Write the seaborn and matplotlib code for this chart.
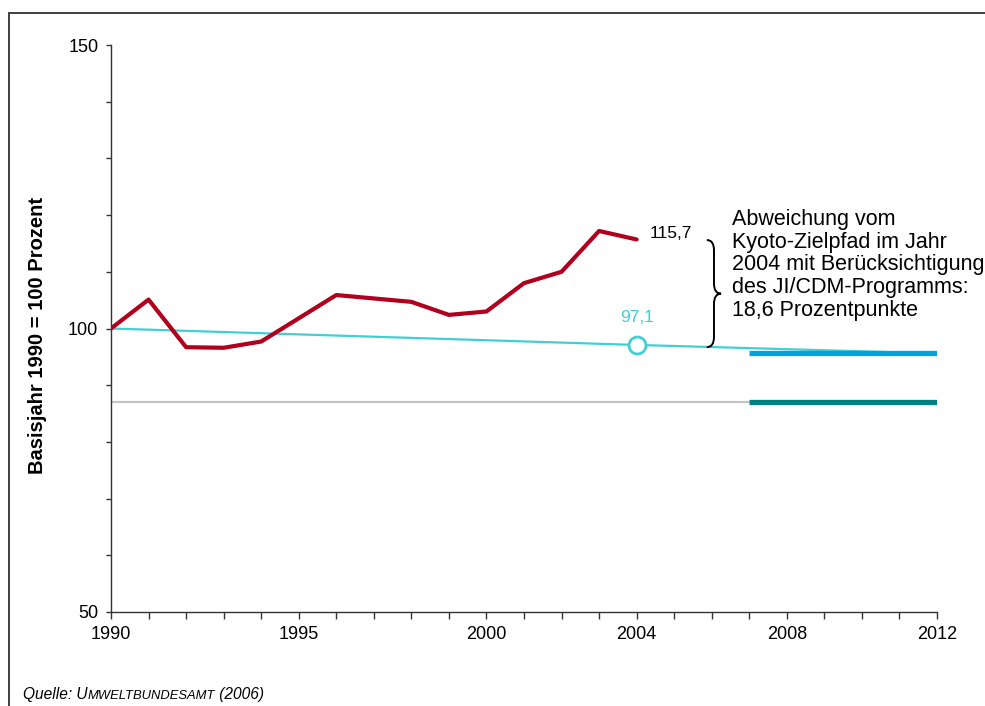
import numpy as np
import pandas as pd
import seaborn as sns
import matplotlib.pyplot as plt
from matplotlib.path import Path
from matplotlib.patches import PathPatch, Rectangle

sns.set_theme(style="white")
plt.rcParams['font.family'] = ['Liberation Sans', 'DejaVu Sans']
plt.rcParams['text.color'] = 'black'
plt.rcParams['xtick.color'] = 'black'
plt.rcParams['ytick.color'] = 'black'

# Emissionen, Basisjahr 1990 = 100
years = list(range(1990, 2005))
emissions = [100, 105.1, 96.7, 96.6, 97.7, 101.8, 105.9, 105.3, 104.7, 102.4,
             103.0, 108.0, 110.0, 117.2, 115.7]

# Kyoto-Zielpfad mit JI/CDM
path_years = [1990, 2004, 2012]
path_values = [100, 97.1, 95.6]

# Kyoto-Ziel ohne JI/CDM (Verlauf bis 2007)
goal_years = [1990, 2007]
goal_values = [87.0, 87.0]

# Zielperiode 2008-2012
period_years = [2007, 2012]
period_jicdm = [95.6, 95.6]
period_goal = [87.0, 87.0]

tick_labels = {1990: '1990', 1995: '1995', 2000: '2000', 2004: '2004', 2008: '2008', 2012: '2012'}

red = '#B0001E'
cyan = '#40CFD2'
blue = '#00A3DC'
teal = '#008080'
gray = '#C4C4C4'

fig = plt.figure(figsize=(9.85, 7.06), dpi=100)
ax = fig.add_axes([111 / 985, 1 - 612 / 706, (937 - 111) / 985, (612 - 45) / 706])

sns.lineplot(x=goal_years, y=goal_values, color=gray, linewidth=1.6, ax=ax, zorder=2)
sns.lineplot(x=path_years, y=path_values, color=cyan, linewidth=1.6, ax=ax, zorder=2)
sns.lineplot(x=period_years, y=period_jicdm, color=blue, linewidth=3.8, ax=ax, zorder=3,
             solid_capstyle='butt')
sns.lineplot(x=period_years, y=period_goal, color=teal, linewidth=3.8, ax=ax, zorder=3,
             solid_capstyle='butt')
sns.lineplot(x=years, y=emissions, color=red, linewidth=3.0, ax=ax, zorder=4)
sns.scatterplot(x=[path_years[1]], y=[path_values[1]], s=150, facecolor='white',
                edgecolor=cyan, linewidth=2, ax=ax, zorder=5)

ax.set_xlim(1990, 2012)
ax.set_ylim(50, 150)
ax.set_xticks(range(1990, 2013))
ax.set_xticklabels([tick_labels.get(y, '') for y in range(1990, 2013)])
ax.set_yticks(range(50, 151, 10))
ax.set_yticklabels([str(v) if v in (50, 100, 150) else '' for v in range(50, 151, 10)])
ax.tick_params(axis='x', direction='out', length=5, width=1, color='#333333',
               pad=5, labelsize=13, bottom=True)
ax.tick_params(axis='y', direction='out', length=3.6, width=1, color='#333333',
               pad=5.5, labelsize=13, left=True)
for side in ['top', 'right']:
    ax.spines[side].set_visible(False)
for side in ['left', 'bottom']:
    ax.spines[side].set_color('#333333')
    ax.spines[side].set_linewidth(1.0)
ax.set_xlabel('')
ax.set_ylabel('')

# annotations
ax.text(path_years[1], 101.9, '97,1', color=cyan, fontsize=12.5, ha='center', va='center')
ax.text(years[-1] + 0.34, 116.7, '115,7', color='black', fontsize=12.5, ha='left', va='center')
ax.text(2006.53, 111.2,
        'Abweichung vom\nKyoto-Zielpfad im Jahr\n2004 mit Berücksichtigung\n'
        'des JI/CDM-Programms:\n18,6 Prozentpunkte',
        fontsize=15.5, ha='left', va='center', linespacing=1.12)

# curly brace
x0, xm, x1 = 2005.87, 2006.06, 2006.25
ytop, ybot = 115.6, 96.7
ymid = (ytop + ybot) / 2
r = 1.8
verts = [(x0, ytop), (xm, ytop), (xm, ytop - r),
         (xm, ymid + r), (xm, ymid), (x1, ymid),
         (xm, ymid), (xm, ymid - r),
         (xm, ybot + r), (xm, ybot), (x0, ybot)]
codes = [Path.MOVETO, Path.CURVE3, Path.CURVE3,
         Path.LINETO, Path.CURVE3, Path.CURVE3,
         Path.CURVE3, Path.CURVE3,
         Path.LINETO, Path.CURVE3, Path.CURVE3]
ax.add_patch(PathPatch(Path(verts, codes), facecolor='none', edgecolor='black',
                       linewidth=1.4, zorder=6, clip_on=False))

fig.text(38 / 985, 1 - 336 / 706, 'Basisjahr 1990 = 100 Prozent', rotation=90,
         fontsize=14.5, fontweight='bold', ha='center', va='center')

# source line with small caps
t1 = fig.text(23 / 985, 1 - 702 / 706, 'Quelle: U', fontsize=11.2, style='italic',
              ha='left', va='bottom')
t2 = ax.annotate('MWELTBUNDESAMT', xy=(1, 0), xycoords=t1, fontsize=9.4, style='italic',
                 ha='left', va='bottom', annotation_clip=False)
t3 = ax.annotate(' (2006)', xy=(1, 0), xycoords=t2, fontsize=11.2, style='italic',
                 ha='left', va='bottom', annotation_clip=False)

# frame
fig.patches.append(Rectangle((9 / 985, -0.05), 1.0, 0.05 + 1 - 13 / 706,
                             transform=fig.transFigure, fill=False,
                             edgecolor='#404040', linewidth=1.4))

fig.savefig('out.png', dpi=100)
